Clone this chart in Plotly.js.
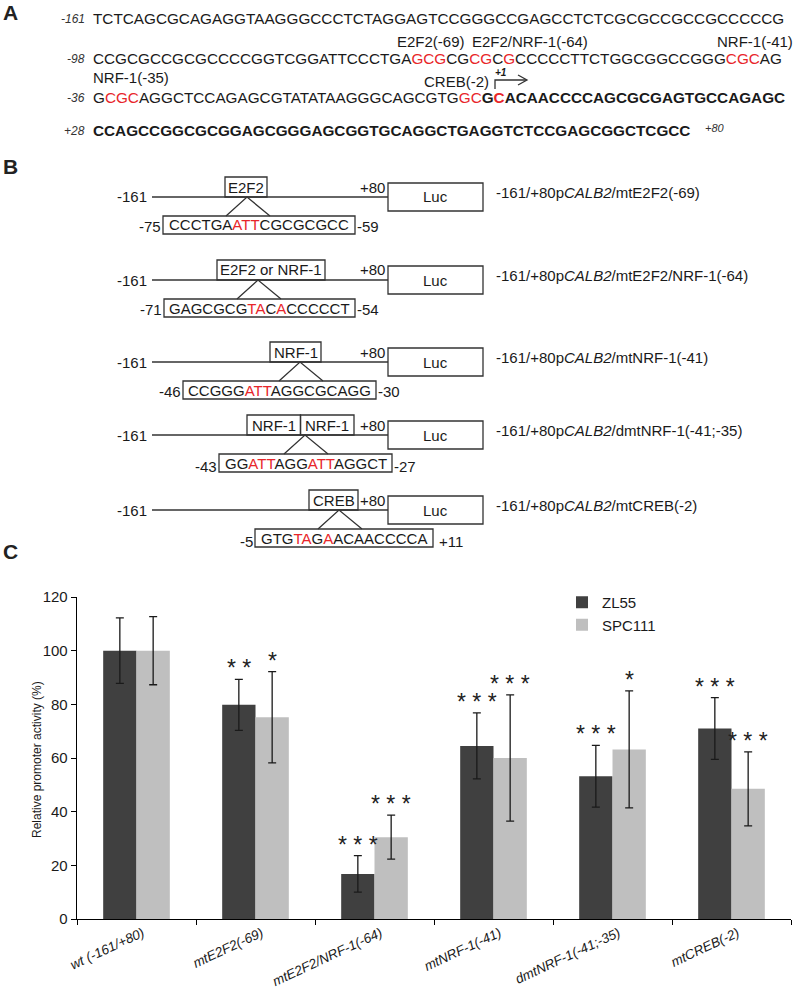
<!DOCTYPE html>
<html>
<head>
<meta charset="utf-8">
<script src="https://cdn.plot.ly/plotly-3.0.1.min.js"></script>
<style>
  html, body { margin: 0; padding: 0; background: #fff; }
  #fig { width: 799px; height: 992px; }
</style>
</head>
<body>
<div id="fig"></div>
<script>
// ---- panel C data ----
const categories = ['wt (-161/+80)', 'mtE2F2(-69)', 'mtE2F2/NRF-1(-64)', 'mtNRF-1(-41)', 'dmtNRF-1(-41;-35)', 'mtCREB(-2)'];
const zl55 = [100, 79.8, 16.8, 64.5, 53.2, 71.0];
const zl55Err = [12.2, 9.5, 6.8, 12.3, 11.5, 11.5];
const spc111 = [100, 75.2, 30.5, 60.0, 63.2, 48.5];
const spc111Err = [12.7, 17.0, 8.2, 23.5, 21.8, 13.8];
const zl55Stars = ['', '**', '***', '***', '***', '***'];
const spc111Stars = ['', '*', '***', '***', '*', '***'];

// ---- panel A sequence (markup for mutated bases) ----
const red = s => `<span style="color:#e8262a">${s}</span>`;
const seqRows = [
    { pos: '-161', seq: 'TCTCAGCGCAGAGGTAAGGGCCCTCTAGGAGTCCGGGCCGAGCCTCTCGCGCCGCCGCCCCCG' },
    { pos: '-98', seq: 'CCGCGCCGCGCCCCGGTCGGATTCCCTGA' + red('GCG') + 'CG' + red('CG') + 'C' + red('G') + 'CCCCCTTCTGGCGGCCGGG' + red('CGC') + 'AG' },
    { pos: '-36', seq: 'G' + red('CGC') + 'AGGCTCCAGAGCGTATATAAGGGCAGCGTG' + red('GC') + '<b>G' + red('C') + 'ACAACCCCAGCGCGAGTGCCAGAGC</b>' },
    { pos: '+28', seq: '<b>CCAGCCGGCGCGGAGCGGGAGCGGTGCAGGCTGAGGTCTCCGAGCGGCTCGCC</b>' }
];
const siteLabels = ['E2F2(-69)', 'E2F2/NRF-1(-64)', 'NRF-1(-41)', 'NRF-1(-35)', 'CREB(-2)'];

// ---- panel B constructs ----
const constructs = [
    { sites: ['E2F2'], from: '-75', to: '-59', mut: 'CCCTGA' + red('ATT') + 'CGCGCGCC', name: '-161/+80p<i>CALB2</i>/mtE2F2(-69)' },
    { sites: ['E2F2 or NRF-1'], from: '-71', to: '-54', mut: 'GAGCGCG' + red('TA') + 'C' + red('A') + 'CCCCCT', name: '-161/+80p<i>CALB2</i>/mtE2F2/NRF-1(-64)' },
    { sites: ['NRF-1'], from: '-46', to: '-30', mut: 'CCGGG' + red('ATT') + 'AGGCGCAGG', name: '-161/+80p<i>CALB2</i>/mtNRF-1(-41)' },
    { sites: ['NRF-1', 'NRF-1'], from: '-43', to: '-27', mut: 'GG' + red('ATT') + 'AGG' + red('ATT') + 'AGGCT', name: '-161/+80p<i>CALB2</i>/dmtNRF-1(-41;-35)' },
    { sites: ['CREB'], from: '-5', to: '+11', mut: 'GTG' + red('TA') + 'G' + red('A') + 'ACAACCCCA', name: '-161/+80p<i>CALB2</i>/mtCREB(-2)' }
];

// ---- page geometry (pixels) ----
const W = 799, H = 992;
const L = 77, R = 791, T = 597, B = 919;
const PX = x => (x - L) / (R - L);
const PY = y => (B - y) / (B - T);
const FONT = 'Arial, "Liberation Sans", sans-serif';
const INK = '#1a1a1a';

const annotations = [];
const shapes = [];

function txt(text, x, y, o = {}) {
    annotations.push({
        xref: 'paper', yref: 'paper', x: PX(x), y: PY(y), text,
        showarrow: false, xanchor: o.xa || 'center', yanchor: 'middle',
        borderpad: 0,
        font: { family: FONT, size: o.size || 15, color: o.color || INK }
    });
}
function rect(x0, y0, x1, y1) {
    shapes.push({ type: 'rect', xref: 'paper', yref: 'paper', x0: PX(x0), x1: PX(x1), y0: PY(y0), y1: PY(y1),
        line: { color: '#333', width: 1.3 }, fillcolor: 'rgba(0,0,0,0)' });
}
function path(pts, close) {
    const d = pts.map((p, i) => (i ? 'L ' : 'M ') + PX(p[0]) + ' ' + PY(p[1])).join(' ') + (close ? ' Z' : '');
    shapes.push({ type: 'path', xref: 'paper', yref: 'paper', path: d, line: { color: '#333', width: 1.3 } });
}

// panel letters
txt('<b>A</b>', 2, 12, { xa: 'left', size: 21, color: '#222' });
txt('<b>B</b>', 2, 166, { xa: 'left', size: 21, color: '#222' });
txt('<b>C</b>', 2, 551, { xa: 'left', size: 21, color: '#222' });

// panel A
const rowY = [18, 58, 97, 130];
seqRows.forEach((r, i) => {
    txt(`<i>${r.pos}</i>`, 86, rowY[i] + 1, { xa: 'right', size: 12, color: '#333' });
    txt(r.seq, 92, rowY[i], { xa: 'left', size: 15.3 });
});
txt('<i>+80</i>', 704, 128, { xa: 'left', size: 11, color: '#333' });
txt(siteLabels[0], 396, 41, { xa: 'left' });
txt(siteLabels[1], 471, 41, { xa: 'left' });
txt(siteLabels[2], 716, 41, { xa: 'left' });
txt(siteLabels[3], 92, 77, { xa: 'left' });
txt(siteLabels[4], 423, 81, { xa: 'left' });
txt('<b><i>+1</i></b>', 501, 73, { size: 10 });
path([[495, 89], [495, 80], [526, 80]]);
path([[518, 75], [527, 80], [518, 85]]);

// panel B
const rowsB = [197, 280, 362, 435, 510];
const siteBox = [[225, 267], [217, 325], [270, 321], [247, 354], [309, 358]];
const apexX = [247, 258, 300, 305, 339];
const mutBox = [[163, 355], [164, 355], [183, 376], [219, 392], [255, 433]];
constructs.forEach((c, i) => {
    const y = rowsB[i];
    txt('-161', 148, y, { xa: 'right' });
    path([[152, y], [388, y]]);
    txt('+80', 372, y - 10);
    rect(388, y - 14, 483, y + 14);
    txt('Luc', 435, y);
    txt(c.name, 495, y - 5, { xa: 'left' });
    // site box(es)
    const [sx0, sx1] = siteBox[i];
    const n = c.sites.length;
    c.sites.forEach((s, k) => {
        const a = sx0 + (sx1 - sx0) * k / n, b = sx0 + (sx1 - sx0) * (k + 1) / n;
        rect(a, y - 20, b, y);
        txt(s, (a + b) / 2, y - 10);
    });
    // mutated sequence
    const [mx0, mx1] = mutBox[i];
    const my0 = y + 19, my1 = y + 37;
    path([[apexX[i] - 21, my0], [apexX[i], y], [apexX[i] + 23, my0]]);
    rect(mx0, my0, mx1, my1);
    txt(c.mut, (mx0 + mx1) / 2, (my0 + my1) / 2);
    const low = i >= 3 ? 3 : 1;
    txt(c.from, mx0 - 1, (my0 + my1) / 2 + low, { xa: 'right' });
    txt(c.to, mx1 + (i === 4 ? 5 : 1), (my0 + my1) / 2 + low, { xa: 'left' });
});

// y axis title
annotations.push({
    xref: 'paper', yref: 'paper', x: PX(37), y: PY(760), text: 'Relative promoter activity (%)',
    textangle: -90, showarrow: false, xanchor: 'center', yanchor: 'middle',
    font: { family: FONT, size: 12, color: INK }
});

// significance stars above error bars
const off = 0.14;
function stars(marks, vals, errs, dx) {
    marks.forEach((m, i) => {
        if (!m) return;
        annotations.push({
            xref: 'x', yref: 'y', x: i + dx, y: vals[i] + errs[i], text: m.split('').join(' '),
            showarrow: false, xanchor: 'center', yanchor: 'bottom', yshift: -4,
            font: { family: FONT, size: 23, color: '#222' }
        });
    });
}
stars(zl55Stars, zl55, zl55Err, -off);
stars(spc111Stars, spc111, spc111Err, off);

const traces = [
    {
        type: 'bar', name: 'ZL55', x: categories, y: zl55,
        marker: { color: '#404040' },
        error_y: { type: 'data', array: zl55Err, visible: true, color: '#1a1a1a', thickness: 1.3, width: 4 }
    },
    {
        type: 'bar', name: 'SPC111', x: categories, y: spc111,
        marker: { color: '#bfbfbf' },
        error_y: { type: 'data', array: spc111Err, visible: true, color: '#1a1a1a', thickness: 1.3, width: 4 }
    }
];

const layout = {
    width: W, height: H,
    margin: { l: L, r: W - R, t: T, b: H - B, pad: 0 },
    paper_bgcolor: '#fff', plot_bgcolor: '#fff',
    font: { family: FONT, color: INK },
    barmode: 'group', bargap: 0.44, bargroupgap: 0,
    showlegend: true,
    legend: {
        x: PX(562), y: PY(586), xanchor: 'left', yanchor: 'top',
        font: { family: FONT, size: 15, color: INK },
        itemwidth: 30, tracegroupgap: 0, bgcolor: 'rgba(0,0,0,0)'
    },
    xaxis: {
        type: 'category', tickson: 'boundaries', ticks: 'outside', ticklen: 5, tickcolor: '#000',
        showline: true, linecolor: '#000', linewidth: 1.3, showgrid: false, zeroline: false,
        tickangle: -25, ticklabelshift: 6, tickvals: categories, ticktext: categories.map(c => `<i>${c}</i>`),
        tickfont: { family: FONT, size: 13.5, color: INK }
    },
    yaxis: {
        range: [0, 120], dtick: 20, ticks: 'outside', ticklen: 5, tickcolor: '#000',
        showline: true, linecolor: '#000', linewidth: 1.3, showgrid: false, zeroline: false,
        tickfont: { family: FONT, size: 15, color: INK }
    },
    annotations, shapes
};

Plotly.newPlot('fig', traces, layout, { staticPlot: true });
</script>
</body>
</html>
